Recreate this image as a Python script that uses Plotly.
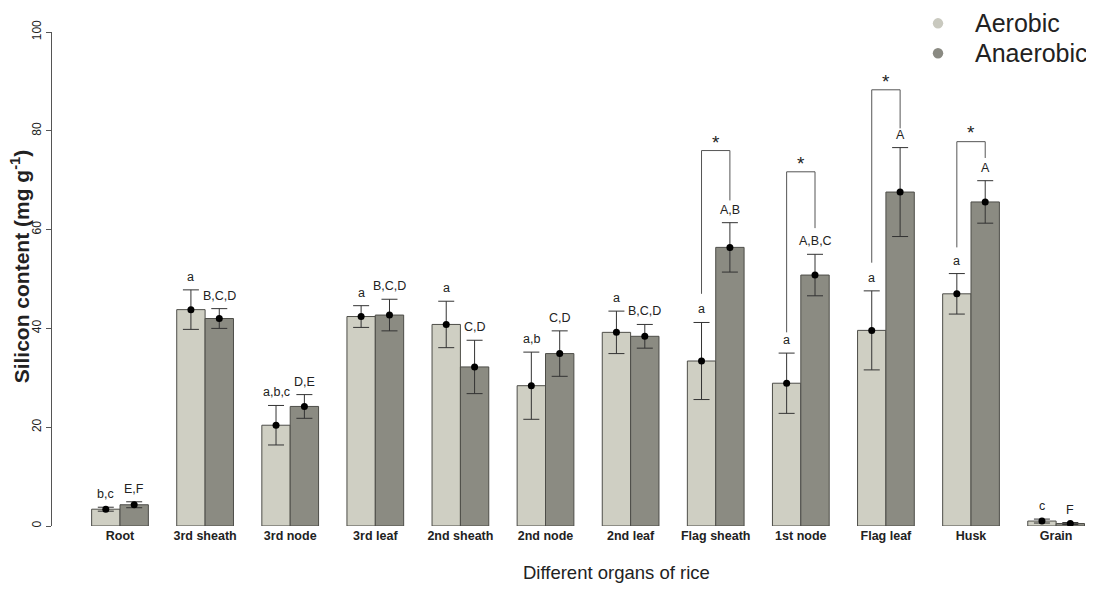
import plotly.graph_objects as go

categories = ["Root", "3rd sheath", "3rd node", "3rd leaf", "2nd sheath", "2nd node",
              "2nd leaf", "Flag sheath", "1st node", "Flag leaf", "Husk", "Grain"]
aerobic = [3.4, 43.8, 20.4, 42.4, 40.8, 28.4, 39.2, 33.4, 28.9, 39.6, 47.0, 1.0]
aerobic_err = [0.4, 4.0, 4.0, 2.2, 4.7, 6.8, 4.3, 7.8, 6.1, 8.0, 4.1, 0.4]
anaerobic = [4.3, 42.0, 24.2, 42.7, 32.2, 34.9, 38.4, 56.4, 50.8, 67.6, 65.6, 0.5]
anaerobic_err = [0.6, 2.0, 2.4, 3.2, 5.4, 4.6, 2.4, 5.0, 4.2, 9.0, 4.3, 0.2]
aerobic_labels = ["b,c", "a", "a,b,c", "a", "a", "a,b", "a", "a", "a", "a", "a", "c"]
anaerobic_labels = ["E,F", "B,C,D", "D,E", "B,C,D", "C,D", "C,D", "B,C,D", "A,B", "A,B,C", "A", "A", "F"]
series_names = ["Aerobic", "Anaerobic"]
# significance brackets: category index, left leg bottom, bracket top, right leg bottom, star y
sig_cats = [7, 8, 9, 10]
sig_left = [47.0, 39.2, 53.3, 56.4]
sig_top = [76.0, 71.7, 88.3, 77.8]
sig_right = [65.9, 60.3, 80.5, 74.5]
sig_star = [77.6, 73.3, 90.0, 79.6]

AER = "#cfcfc3"
ANA = "#8b8b82"
EDGE = "#4d4d48"
LEG_COLS = ["#c9c9bf", "#8a8a82"]
FONT = "Arial, Liberation Sans, sans-serif"

idx = list(range(len(categories)))
x_aer = [i - 1/6 for i in idx]
x_ana = [i + 1/6 for i in idx]

fig = go.Figure()
for xs, vals, errs, col, nm in [(x_aer, aerobic, aerobic_err, AER, series_names[0]),
                                (x_ana, anaerobic, anaerobic_err, ANA, series_names[1])]:
    fig.add_trace(go.Bar(
        x=xs, y=vals, width=1/3, name=nm,
        marker=dict(color=col, line=dict(color=EDGE, width=1)),
        error_y=dict(type="data", array=errs, color="#333333", thickness=1, width=8),
        showlegend=False, hoverinfo="skip"))
    fig.add_trace(go.Scatter(
        x=xs, y=vals, mode="markers", marker=dict(color="black", size=7),
        showlegend=False, hoverinfo="skip"))

ann = []
for xs, vals, errs, labs in [(x_aer, aerobic, aerobic_err, aerobic_labels),
                             (x_ana, anaerobic, anaerobic_err, anaerobic_labels)]:
    for x, v, e, t in zip(xs, vals, errs, labs):
        ann.append(dict(x=x, y=v + e, text=t, showarrow=False, yanchor="bottom", yshift=4,
                        font=dict(family=FONT, size=12.5, color="#222222")))

shapes = []
for c, l, tp, r, s in zip(sig_cats, sig_left, sig_top, sig_right, sig_star):
    xl, xr = c - 1/6, c + 1/6
    shapes.append(dict(type="path", xref="x", yref="y",
                       path=f"M {xl} {l} L {xl} {tp} L {xr} {tp} L {xr} {r}",
                       line=dict(color="#555555", width=1)))
    ann.append(dict(x=c, y=s, text="*", showarrow=False, yanchor="middle",
                    font=dict(family=FONT, size=19, color="#222222")))

# legend (circles + labels) placed in paper coordinates
leg_y = [1.0176, 0.9569]
for nm, col, ly in zip(series_names, LEG_COLS, leg_y):
    shapes.append(dict(type="circle", xref="paper", yref="paper",
                       x0=0.8503 - 0.0050, x1=0.8503 + 0.0050,
                       y0=ly - 0.0105, y1=ly + 0.0105,
                       fillcolor=col, line=dict(width=0)))
    ann.append(dict(xref="paper", yref="paper", x=0.8839, y=ly, text=nm,
                    showarrow=False, xanchor="left", yanchor="middle",
                    font=dict(family=FONT, size=25, color="#222222")))

ann.append(dict(xref="paper", yref="paper", x=0.542, y=-0.095, text="Different organs of rice",
                showarrow=False, xanchor="center", yanchor="middle",
                font=dict(family=FONT, size=18.5, color="#222222")))
ann.append(dict(xref="paper", yref="paper", x=-0.031, y=0.525,
                text="<b>Silicon content (mg g<sup>-1</sup>)</b>", textangle=-90,
                showarrow=False, xanchor="center", yanchor="middle",
                font=dict(family=FONT, size=21, color="#222222")))

fig.update_layout(
    width=1094, height=592,
    margin=dict(l=44, r=8, t=24, b=74, autoexpand=False),
    paper_bgcolor="white", plot_bgcolor="white",
    barmode="overlay", showlegend=False,
    annotations=ann, shapes=shapes,
    xaxis=dict(range=[-0.799, 11.445], tickmode="array", tickvals=idx,
               ticktext=[f"<b>{c}</b>" for c in categories], showline=False,
               showgrid=False, zeroline=False, ticks="",
               tickfont=dict(family=FONT, size=12.5, color="#222222")),
    yaxis=dict(range=[0, 100], tickvals=[0, 20, 40, 60, 80, 100], showline=True,
               linecolor="#555555", linewidth=1, ticks="outside", ticklen=5,
               tickcolor="#555555", tickangle=-90, showgrid=False, zeroline=False,
               tickfont=dict(family=FONT, size=12, color="#222222")),
)

fig.write_html("out.html")
